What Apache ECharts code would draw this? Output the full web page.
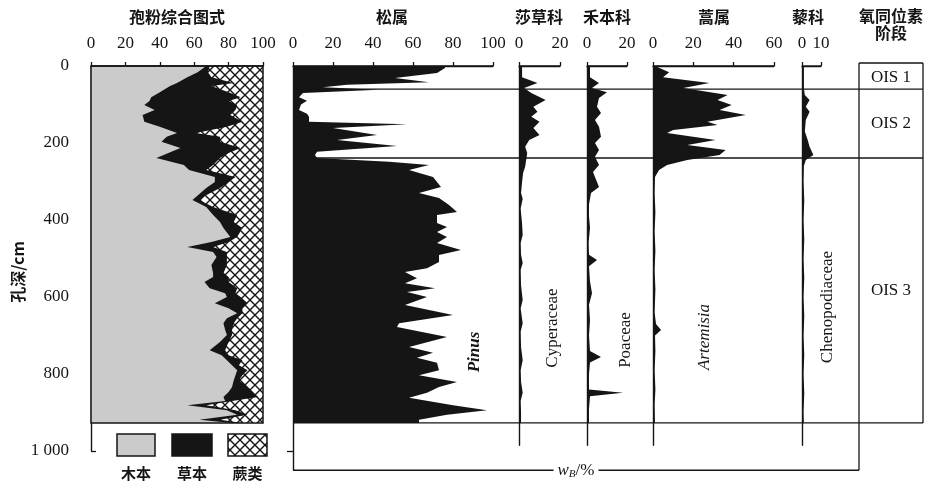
<!DOCTYPE html>
<html>
<head>
<meta charset="utf-8">
<script src="https://cdn.jsdelivr.net/npm/echarts@6/dist/echarts.min.js"></script>
<style>
html, body { margin: 0; padding: 0; background: #fff; }
#chart { width: 928px; height: 484px; }
</style>
</head>
<body>
<div id="chart"></div>
<script>
// 孢粉综合图式 (木本 / 草本 百分比, 蕨类 = 剩余部分)
const sumDepth = [0,16,29,44,52,68,81,91,101,114,127,145,158,174,184,197,213,226,239,257,270,288,301,317,340,348,366,387,405,421,444,457,470,483,496,517,538,548,561,577,590,600,616,629,642,655,668,686,699,717,738,751,764,777,790,803,816,834,847,860,870,881,894,906,919,927];
const woodPct  = [67,62,56,50,46,40,35,34,31,37,30,31,40,50,44,41,52,45,38,54,57,72,72,67,61,59,67,71,75,77,81,70,56,71,73,70,71,71,66,69,78,79,72,80,85,79,77,78,79,75,69,76,79,82,85,84,83,82,80,77,78,56,79,85,63,82];
const herbPct  = [2,6,14,33,24,40,52,46,54,47,51,57,39,11,31,34,35,35,37,17,10,12,8,8,4,4,4,14,8,11,4,10,15,8,6,9,6,9,14,16,6,8,19,8,3,6,6,4,3,5,9,4,9,4,6,4,3,9,14,20,4,11,5,6,12,6];

// 松属 Pinus
const pinusDepth = [0,5,18,31,42,49,55,62,70,81,90,100,114,124,132,145,151,161,179,192,208,223,231,239,249,257,270,288,314,330,343,361,379,387,408,418,431,444,460,478,491,509,525,535,551,564,577,587,600,621,647,668,678,704,730,745,758,771,790,803,821,834,849,862,881,894,906,919,927];
const pinusPct   = [76,76,72,51,68,27,15,43,5,3,7,4,3,7,8,8,57,20,42,22,52,12,11,12,48,68,58,70,74,63,73,78,82,72,72,77,72,77,72,84,73,73,67,56,62,56,71,57,67,56,80,53,52,77,58,70,62,72,73,63,82,73,67,58,80,97,77,63,63];

// 莎草科 Cyperaceae
const cypDepth = [0,29,44,57,70,88,106,119,132,145,161,179,192,210,226,244,262,278,301,330,345,370,410,439,460,490,512,530,570,608,630,668,690,730,764,790,820,849,870,900,927];
const cypPct   = [1.5,1.5,9,2.5,6,13,7,9,6,10,7,10,5,3,4,3.5,3,2,1.5,1,1.8,0.8,1.5,1.8,0.8,1,1.8,0.8,1,1.8,0.8,1.8,0.8,1,1.8,0.8,1,1.8,0.8,1,1];

// 禾本科 Poaceae
const poaDepth = [0,29,44,57,68,83,106,122,140,158,184,200,218,236,257,275,301,314,330,360,390,420,460,490,504,520,560,590,620,660,700,740,756,770,800,840,849,858,890,927];
const poaPct   = [1.5,1.5,6,2.5,10,6,5,7,4,6,7,4,6,4,6,3,5,6,2,1,1,1.5,0.8,1,5,1,1.5,2.5,1,1.5,1,1.5,7,1.5,1,1,18,1.5,1,1];

// 蒿属 Artemisia
const artDepth = [0,16,29,44,57,75,88,101,114,127,145,153,166,174,192,205,218,231,244,257,270,288,330,380,430,480,530,580,640,670,686,700,740,790,840,880,927];
const artPct   = [1,8,5,28,15,37,32,39,33,46,27,32,10,7,31,17,36,33,17,7,3,1,0.8,1.2,0.8,1.2,0.8,1.2,0.8,1.5,4,1,1.2,0.8,1.2,0.8,1];

// 藜科 Chenopodiaceae
const cheDepth = [0,60,75,88,106,119,140,170,192,210,231,244,260,300,350,400,450,500,550,600,650,700,750,800,850,900,927];
const chePct   = [1,1,1.5,4,2,4,2,1.5,3,4,6,2,1,0.8,1.2,0.8,1.2,0.8,1.2,0.8,1.2,0.8,1.2,0.8,1.2,0.8,1];

// 氧同位素阶段
const oisBounds = [0, 60, 239, 927];
const oisNames = ['OIS 1', 'OIS 2', 'OIS 3'];
const coreBottom = 927;
const depthTicks = [0, 200, 400, 600, 800, 1000];

const INK = '#151515';
const GREY = '#cbcbcb';
const SERIF = '"Liberation Serif", "DejaVu Serif", serif';
const CJK = '"Noto Sans CJK SC", sans-serif';
const PX_PER_CM = 0.385;
const TOP = 66;

// 各分栏布局
const panels = [
    { left: 91,  width: 172, max: 100, step: 20, depthMax: 1000 },
    { left: 293, width: 200, max: 100, step: 20, depthMax: 1050 },
    { left: 519, width: 41,  max: 20,  step: 20, depthMax: 985 },
    { left: 587, width: 40,  max: 20,  step: 20, depthMax: 985 },
    { left: 653, width: 121, max: 60,  step: 20, depthMax: 985 },
    { left: 802, width: 19,  max: 10,  step: 10, depthMax: 985 },
    { left: 859, width: 64,  max: 1,   step: 1,  depthMax: 1050 }
];
const OIS_GRID = 6;

function hatchCanvas() {
    const s = 10;
    const c = document.createElement('canvas');
    c.width = c.height = s;
    const g = c.getContext('2d');
    g.fillStyle = '#fff';
    g.fillRect(0, 0, s, s);
    g.strokeStyle = INK;
    g.lineWidth = 1.4;
    g.beginPath();
    g.moveTo(-1, -1); g.lineTo(s + 1, s + 1);
    g.moveTo(-1, s + 1); g.lineTo(s + 1, -1);
    g.stroke();
    return c;
}
const hatch = { image: hatchCanvas(), repeat: 'repeat' };

// 垂直剖面曲线: 从 0 到数值填充
function profileSeries(gridIndex, depths, values, fill) {
    return {
        type: 'custom',
        xAxisIndex: gridIndex,
        yAxisIndex: gridIndex,
        silent: true,
        data: depths.map((d, i) => [values[i], d]),
        renderItem: (params, api) => {
            if (params.dataIndex !== 0) return null;
            const pts = [api.coord([0, depths[0]])];
            depths.forEach((d, i) => pts.push(api.coord([values[i], d])));
            pts.push(api.coord([0, depths[depths.length - 1]]));
            return { type: 'polygon', shape: { points: pts }, style: { fill: fill } };
        }
    };
}

const woodTop = woodPct.slice();
const herbTop = woodPct.map((w, i) => w + herbPct[i]);

const grids = [], xAxes = [], yAxes = [];
panels.forEach((p, i) => {
    const hidden = i === OIS_GRID;
    grids.push({ left: p.left, top: TOP, width: p.width, height: p.depthMax * PX_PER_CM });
    xAxes.push({
        gridIndex: i, type: 'value', min: 0, max: p.max, interval: p.step,
        position: 'top', offset: 7, show: !hidden,
        axisLine: { show: true, lineStyle: { color: INK, width: 1.3 } },
        axisTick: { show: true, length: 4, lineStyle: { color: INK, width: 1.3 } },
        axisLabel: { color: INK, fontSize: 17, fontFamily: SERIF, margin: 7 },
        splitLine: { show: false }
    });
    yAxes.push({
        gridIndex: i, type: 'value', inverse: true, min: 0, max: p.depthMax,
        interval: 200, show: !hidden,
        axisLine: { show: true, lineStyle: { color: INK, width: 1.4 } },
        axisTick: i === 0
            ? { show: true, inside: true, length: 5, lineStyle: { color: INK, width: 1.3 } }
            : (i === 1 ? { show: true, length: 6, customValues: [1000], lineStyle: { color: INK, width: 1.3 } } : { show: false }),
        axisLabel: i === 0
            ? { show: true, color: INK, fontSize: 17, fontFamily: SERIF, margin: 22,
                customValues: depthTicks, formatter: v => (v === 1000 ? '1 000' : String(v)) }
            : { show: false },
        splitLine: { show: false }
    });
});

const series = [
    // 蕨类 (底层网格)
    {
        type: 'custom', xAxisIndex: 0, yAxisIndex: 0, silent: true,
        data: [[100, coreBottom]],
        renderItem: (params, api) => {
            const a = api.coord([0, 0]), b = api.coord([100, coreBottom]);
            return { type: 'rect', shape: { x: a[0], y: a[1], width: b[0] - a[0], height: b[1] - a[1] }, style: { fill: hatch } };
        }
    },
    profileSeries(0, sumDepth, herbTop, INK),
    profileSeries(0, sumDepth, woodTop, GREY),
    profileSeries(1, pinusDepth, pinusPct, INK),
    profileSeries(2, cypDepth, cypPct, INK),
    profileSeries(3, poaDepth, poaPct, INK),
    profileSeries(4, artDepth, artPct, INK),
    profileSeries(5, cheDepth, chePct, INK)
];

const chart = echarts.init(document.getElementById('chart'));
chart.setOption({
    animation: false,
    backgroundColor: '#fff',
    grid: grids,
    xAxis: xAxes,
    yAxis: yAxes,
    series: series
});

// 框线、分界线与文字
const px = (g, v) => chart.convertToPixel({ gridIndex: g }, v);
const els = [];
const line = (a, b, w) => els.push({
    type: 'line', z: 10, silent: true,
    shape: { x1: a[0], y1: a[1], x2: b[0], y2: b[1] },
    style: { stroke: INK, lineWidth: w || 1.3 }
});
const text = (t, x, y, opt) => els.push(Object.assign({
    type: 'text', z: 11, x: x, y: y, silent: true,
    style: Object.assign({ text: t, fill: INK, align: 'center', verticalAlign: 'middle',
        fontSize: 17, fontFamily: SERIF }, (opt && opt.style) || {})
}, opt && opt.rotation ? { rotation: opt.rotation } : {}));

panels.slice(0, 6).forEach((p, i) => line(px(i, [0, 0]), px(i, [p.max, 0])));

const s0 = px(0, [0, 0]), s1 = px(0, [100, coreBottom]);
els.push({ type: 'rect', z: 10, silent: true,
    shape: { x: s0[0], y: s0[1], width: s1[0] - s0[0], height: s1[1] - s0[1] },
    style: { fill: 'none', stroke: INK, lineWidth: 1.5 } });

const xLeft = px(1, [0, 0])[0];
const oisL = px(OIS_GRID, [0, 0])[0];
const oisR = px(OIS_GRID, [1, 0])[0];
const yOf = d => px(1, [0, d])[1];
const bracketDepth = panels[1].depthMax;
[oisBounds[1], oisBounds[2], coreBottom].forEach(d => line([xLeft, yOf(d)], [oisR, yOf(d)]));
line([oisL, yOf(0) - 3], [oisR, yOf(0) - 3]);
line([oisR, yOf(0) - 3], [oisR, yOf(coreBottom)]);
line([oisL, yOf(0) - 3], [oisL, yOf(bracketDepth)]);
line([xLeft, yOf(bracketDepth)], [oisL, yOf(bracketDepth)]);

oisNames.forEach((n, i) => text(n, (oisL + oisR) / 2, (yOf(oisBounds[i]) + yOf(oisBounds[i + 1])) / 2));

// 标题
const cjkTitle = { style: { fontFamily: CJK, fontSize: 16, fontWeight: 'bold' } };
text('孢粉综合图式', 177, 17, cjkTitle);
text('松属', 392, 17, cjkTitle);
text('莎草科', 539, 17, cjkTitle);
text('禾本科', 607, 17, cjkTitle);
text('蒿属', 714, 17, cjkTitle);
text('藜科', 808, 17, cjkTitle);
text('氧同位素', 891, 16, cjkTitle);
text('阶段', 891, 33, cjkTitle);
text('孔深/cm', 18, 272, { rotation: Math.PI / 2, style: { fontFamily: CJK, fontSize: 16, fontWeight: 'bold' } });

// 拉丁名
const rot = Math.PI / 2;
text('Pinus', 475, 352, { rotation: rot, style: { fontStyle: 'italic', fontWeight: 'bold' } });
text('Cyperaceae', 553, 328, { rotation: rot });
text('Poaceae', 626, 340, { rotation: rot });
text('Artemisia', 705, 337, { rotation: rot, style: { fontStyle: 'italic' } });
text('Chenopodiaceae', 828, 307, { rotation: rot });

// w_B/%
els.push({ type: 'text', z: 11, silent: true, x: (xLeft + oisL) / 2, y: yOf(bracketDepth),
    style: { text: '{w|w}{b|B}{p|/%}', align: 'center', verticalAlign: 'middle',
        backgroundColor: '#fff', padding: [0, 4],
        rich: {
            w: { fontFamily: SERIF, fontSize: 17, fontStyle: 'italic', fill: INK },
            b: { fontFamily: SERIF, fontSize: 11, fontStyle: 'italic', fill: INK, padding: [8, 0, 0, 0] },
            p: { fontFamily: SERIF, fontSize: 17, fill: INK }
        } } });

// 图例
const legendItems = [
    { name: '木本', fill: GREY, x: 117, w: 38 },
    { name: '草本', fill: INK, x: 172, w: 40 },
    { name: '蕨类', fill: hatch, x: 228, w: 39 }
];
legendItems.forEach(it => {
    els.push({ type: 'rect', z: 10, silent: true, shape: { x: it.x, y: 434, width: it.w, height: 22 },
        style: { fill: it.fill, stroke: INK, lineWidth: 1.5 } });
    text(it.name, it.x + it.w / 2, 473, { style: { fontFamily: CJK, fontSize: 15, fontWeight: 'bold' } });
});

chart.setOption({ graphic: { elements: els } });
</script>
</body>
</html>
